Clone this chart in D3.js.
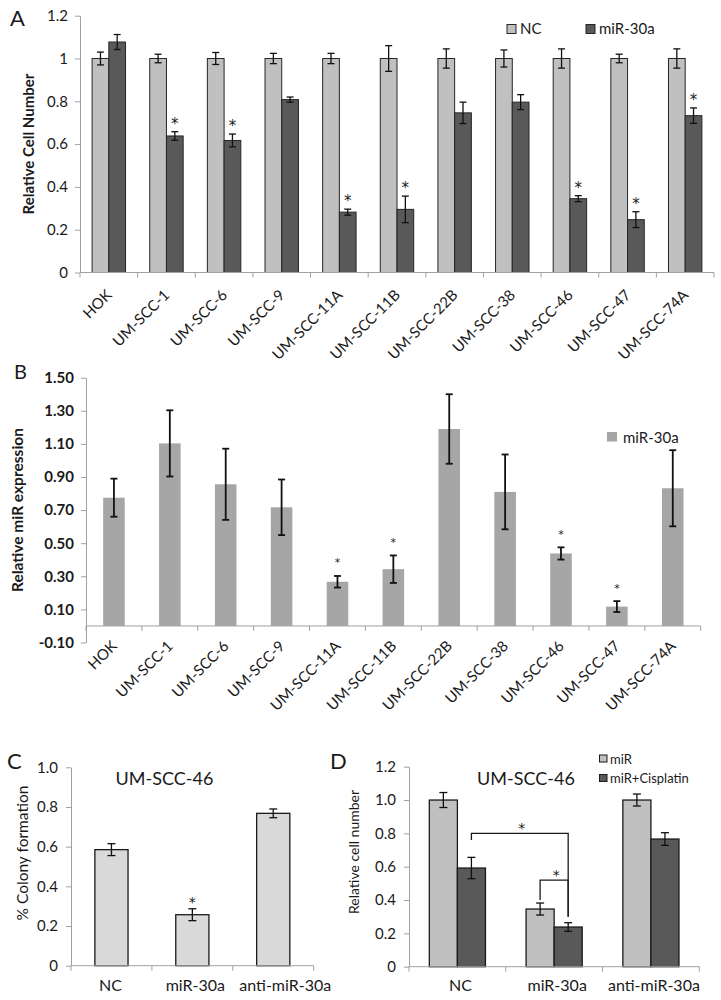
<!DOCTYPE html>
<html><head><meta charset="utf-8">
<script src="https://cdn.jsdelivr.net/npm/d3@7"></script>
<style>
body{margin:0;background:#fff}
svg{display:block}
text{font-family:Lato,"Open Sans",sans-serif;fill:#1a1a1a}
text.star{font-family:"DejaVu Sans",sans-serif;fill:#1a1a1a}
</style>
</head><body>
<svg id="chart" width="721" height="1000"></svg>
<script>
// ---------- DATA ----------
const cellLines = ["HOK","UM-SCC-1","UM-SCC-6","UM-SCC-9","UM-SCC-11A","UM-SCC-11B","UM-SCC-22B","UM-SCC-38","UM-SCC-46","UM-SCC-47","UM-SCC-74A"];

// Panel A
const aSeries = ["NC","miR-30a"];
const aNC      = [1,1,1,1,1,1,1,1,1,1,1];
const aNCErr   = [0.03,0.02,0.028,0.024,0.024,0.06,0.045,0.04,0.045,0.02,0.045];
const aMiR     = [1.077,0.638,0.617,0.808,0.282,0.295,0.746,0.796,0.345,0.247,0.733];
const aMiRErr  = [0.035,0.02,0.03,0.012,0.014,0.062,0.05,0.035,0.014,0.037,0.036];
const aStars   = [false,true,true,false,true,true,false,false,true,true,true];
const aTicks   = [0,0.2,0.4,0.6,0.8,1,1.2];

// Panel B
const bSeries  = "miR-30a";
const bVal     = [0.775,1.103,0.856,0.717,0.267,0.343,1.19,0.81,0.438,0.117,0.832];
const bErr     = [0.115,0.2,0.215,0.168,0.035,0.083,0.21,0.226,0.037,0.033,0.23];
const bStars   = [false,false,false,false,true,true,false,false,true,true,false];
const bTicks   = [-0.1,0.1,0.3,0.5,0.7,0.9,1.1,1.3,1.5];

// Panel C
const cGroups  = ["NC","miR-30a","anti-miR-30a"];
const cVal     = [0.585,0.257,0.768];
const cErr     = [0.03,0.03,0.022];
const cStars   = [false,true,false];
const cTicks   = [0,0.2,0.4,0.6,0.8,1.0];
const cTitle   = "UM-SCC-46";

// Panel D
const dGroups  = ["NC","miR-30a","anti-miR-30a"];
const dSeries  = ["miR","miR+Cisplatin"];
const dMiR     = [1.0,0.346,1.0];
const dMiRErr  = [0.045,0.036,0.036];
const dCis     = [0.592,0.238,0.766];
const dCisErr  = [0.064,0.026,0.038];
const dTicks   = [0,0.2,0.4,0.6,0.8,1.0,1.2];
const dTitle   = "UM-SCC-46";
// brackets: [groupIndex, seriesIndex] endpoints, bracket level, leg end values
const dBrackets = [
  {from:[0,1], to:[1,1], level:0.8,  fromEnd:0.76, toEnd:0.30},
  {from:[1,0], to:[1,1], level:0.52, fromEnd:0.40, toEnd:0.30}
];

// ---------- STYLE ----------
const LIGHT = "#c0c0c0", DARK = "#595959", MIDB = "#a6a6a6", PALE = "#d9d9d9";
const AXIS = "#a0a0a0";
const svg = d3.select("#chart");

function errBar(g, x, y, v, e, cap, sw){
  const gg = g.append("g").attr("stroke","#111").attr("stroke-width",sw||1.3);
  gg.append("line").attr("x1",x).attr("x2",x).attr("y1",y(v-e)).attr("y2",y(v+e));
  gg.append("line").attr("x1",x-cap).attr("x2",x+cap).attr("y1",y(v-e)).attr("y2",y(v-e));
  gg.append("line").attr("x1",x-cap).attr("x2",x+cap).attr("y1",y(v+e)).attr("y2",y(v+e));
}
function yAxis(g, y, ticks, fmt, x0, opts){
  const ax = g.append("g").attr("transform",`translate(${x0},0)`)
    .call(d3.axisLeft(y).tickValues(ticks).tickFormat(fmt).tickSize(5).tickSizeOuter(0).tickPadding(opts.pad||6));
  ax.select(".domain").attr("stroke",AXIS);
  ax.selectAll(".tick line").attr("stroke",AXIS);
  ax.selectAll(".tick text").attr("font-size",opts.fs).attr("font-weight",opts.fw||"normal")
    .attr("fill",opts.color||"#1a1a1a").attr("font-family","Lato, 'Open Sans', sans-serif");
  return ax;
}
function xBaseline(g, x, y0, cats){
  const edges = cats.map(c=>x(c)).concat([x(cats[cats.length-1])+x.step()]);
  g.append("line").attr("x1",edges[0]).attr("x2",edges[edges.length-1])
    .attr("y1",y0).attr("y2",y0).attr("stroke",AXIS);
  g.selectAll(null).data(edges).join("line")
    .attr("x1",d=>d).attr("x2",d=>d).attr("y1",y0).attr("y2",y0+5).attr("stroke",AXIS);
}
function star(g, x, y, fs){
  g.append("text").attr("class","star").attr("x",x).attr("y",y).attr("text-anchor","middle")
    .attr("font-size",fs).text("*");
}

// ================= PANEL A =================
{
  const g = svg.append("g");
  const x = d3.scaleBand().domain(cellLines).range([80,714]).padding(0);
  const y = d3.scaleLinear().domain([0,1.2]).range([272.5,15.7]);
  const bw = x.bandwidth()*0.29;
  const xs = d3.scaleBand().domain(aSeries).range([0,2*bw]);
  const off = (x.bandwidth()-2*bw)/2;
  const series = [{k:"NC",v:aNC,e:aNCErr,c:LIGHT},{k:"miR-30a",v:aMiR,e:aMiRErr,c:DARK}];
  yAxis(g,y,aTicks,d=>String(+d.toFixed(1)),80,{fs:15,pad:7});
  series.forEach(s=>{
    g.selectAll(null).data(cellLines).join("rect")
      .attr("x",d=>x(d)+off+xs(s.k)).attr("width",xs.bandwidth())
      .attr("y",(d,i)=>y(s.v[i])).attr("height",(d,i)=>y(0)-y(s.v[i]))
      .attr("fill",s.c).attr("stroke","#262626").attr("stroke-width",1);
  });
  xBaseline(g,x,y(0),cellLines);
  series.forEach(s=>{
    cellLines.forEach((c,i)=>errBar(g,x(c)+off+xs(s.k)+xs.bandwidth()/2,y,s.v[i],s.e[i],3.5,1.3));
  });
  cellLines.forEach((c,i)=>{
    if(aStars[i]) star(g, x(c)+off+xs("miR-30a")+xs.bandwidth()/2, y(aMiR[i]+aMiRErr[i])-3, 15);
  });
  g.selectAll(null).data(cellLines).join("text")
    .attr("transform",d=>`translate(${x(d)+x.bandwidth()/2+4},296) rotate(-45)`)
    .attr("text-anchor","end").attr("font-size",15).text(d=>d);
  g.append("text").attr("transform","translate(28,144) rotate(-90)").attr("text-anchor","middle")
    .attr("dominant-baseline","central").attr("font-weight","bold").attr("font-size",15).text("Relative Cell Number");
  g.append("text").attr("x",10).attr("y",26).attr("font-size",22).text("A");
  // legend
  const lg = g.append("g");
  [{k:"NC",c:LIGHT,x:507},{k:"miR-30a",c:DARK,x:586}].forEach(l=>{
    lg.append("rect").attr("x",l.x).attr("y",24.5).attr("width",9).attr("height",9).attr("fill",l.c).attr("stroke","#262626");
    lg.append("text").attr("x",l.x+13).attr("y",34).attr("font-size",15).text(l.k);
  });
}

// ================= PANEL B =================
{
  const g = svg.append("g");
  const x = d3.scaleBand().domain(cellLines).range([86,700.7]).padding(0);
  const y = d3.scaleLinear().domain([-0.1,1.5]).range([642.5,377.7]);
  const bw = x.bandwidth()*0.386;
  yAxis(g,y,bTicks,d=>d.toFixed(2),86,{fs:15,fw:"bold",pad:7});
  g.selectAll(null).data(cellLines).join("rect")
    .attr("x",d=>x(d)+(x.bandwidth()-bw)/2).attr("width",bw)
    .attr("y",(d,i)=>y(bVal[i])).attr("height",(d,i)=>y(0)-y(bVal[i])).attr("fill",MIDB);
  xBaseline(g,x,y(0),cellLines);
  cellLines.forEach((c,i)=>{
    errBar(g,x(c)+x.bandwidth()/2,y,bVal[i],bErr[i],3.5,1.8);
    if(bStars[i]) star(g, x(c)+x.bandwidth()/2, y(bVal[i]+bErr[i])-9.5, 11);
  });
  g.selectAll(null).data(cellLines).join("text")
    .attr("transform",d=>`translate(${x(d)+x.bandwidth()/2+4},647) rotate(-45)`)
    .attr("text-anchor","end").attr("font-size",15).text(d=>d);
  g.append("text").attr("transform","translate(17,510) rotate(-90)").attr("text-anchor","middle")
    .attr("dominant-baseline","central").attr("font-weight","bold").attr("font-size",15.5).text("Relative miR expression");
  g.append("text").attr("x",14).attr("y",379).attr("font-size",20).text("B");
  g.append("rect").attr("x",607).attr("y",432).attr("width",10).attr("height",9.5).attr("fill",MIDB);
  g.append("text").attr("x",623).attr("y",442.5).attr("font-size",15).text(bSeries);
}

// ================= PANEL C =================
{
  const g = svg.append("g");
  const x = d3.scaleBand().domain(cGroups).range([71,313.7]).padding(0);
  const y = d3.scaleLinear().domain([0,1]).range([965.7,767.3]);
  const bw = x.bandwidth()*0.41;
  yAxis(g,y,cTicks,d=>d===0?"0":d.toFixed(1),71,{fs:15,pad:8,color:"#333"});
  g.selectAll(null).data(cGroups).join("rect")
    .attr("x",d=>x(d)+(x.bandwidth()-bw)/2).attr("width",bw)
    .attr("y",(d,i)=>y(cVal[i])).attr("height",(d,i)=>y(0)-y(cVal[i]))
    .attr("fill",PALE).attr("stroke","#1a1a1a").attr("stroke-width",1.3);
  xBaseline(g,x,y(0),cGroups);
  cGroups.forEach((c,i)=>{
    errBar(g,x(c)+x.bandwidth()/2,y,cVal[i],cErr[i],4,1.3);
    if(cStars[i]) star(g, x(c)+x.bandwidth()/2, y(cVal[i]+cErr[i])-1.5, 14);
  });
  const dx = [-1,3,12];
  g.selectAll(null).data(cGroups).join("text")
    .attr("x",(d,i)=>x(d)+x.bandwidth()/2+dx[i]).attr("y",991).attr("text-anchor","middle")
    .attr("font-size",16).attr("fill","#222").text(d=>d);
  g.append("text").attr("x",164.5).attr("y",785).attr("text-anchor","middle").attr("font-size",18).attr("fill","#222").text(cTitle);
  g.append("text").attr("transform","translate(22,853) rotate(-90)").attr("text-anchor","middle")
    .attr("dominant-baseline","central").attr("font-size",15.5).attr("fill","#222").text("% Colony formation");
  g.append("text").attr("x",7).attr("y",769).attr("font-size",22).text("C");
}

// ================= PANEL D =================
{
  const g = svg.append("g");
  const x = d3.scaleBand().domain(dGroups).range([409,699.3]).padding(0);
  const y = d3.scaleLinear().domain([0,1.2]).range([966.7,766.7]);
  const bw = x.bandwidth()*0.29;
  const xs = d3.scaleBand().domain(dSeries).range([0,2*bw]);
  const off = (x.bandwidth()-2*bw)/2;
  const cx = (gi,si)=>x(dGroups[gi])+off+xs(dSeries[si])+xs.bandwidth()/2;
  const series = [{k:"miR",v:dMiR,e:dMiRErr,c:LIGHT},{k:"miR+Cisplatin",v:dCis,e:dCisErr,c:DARK}];
  yAxis(g,y,dTicks,d=>d===0?"0":d.toFixed(1),409,{fs:15,pad:8,color:"#333"});
  series.forEach(s=>{
    g.selectAll(null).data(dGroups).join("rect")
      .attr("x",d=>x(d)+off+xs(s.k)).attr("width",xs.bandwidth())
      .attr("y",(d,i)=>y(s.v[i])).attr("height",(d,i)=>y(0)-y(s.v[i]))
      .attr("fill",s.c).attr("stroke","#1a1a1a").attr("stroke-width",1.3);
  });
  xBaseline(g,x,y(0),dGroups);
  series.forEach((s,si)=>dGroups.forEach((c,i)=>errBar(g,cx(i,si),y,s.v[i],s.e[i],4,1.3)));
  dBrackets.forEach(b=>{
    const x1 = cx(b.from[0],b.from[1]), x2 = cx(b.to[0],b.to[1]);
    g.append("path").attr("fill","none").attr("stroke","#1a1a1a").attr("stroke-width",1.3)
      .attr("d",`M${x1},${y(b.fromEnd)}V${y(b.level)}H${x2}V${y(b.toEnd)}`);
    star(g, (x1+x2)/2+2, y(b.level)-0.5, 14);
  });
  g.selectAll(null).data(dGroups).join("text")
    .attr("x",d=>x(d)+x.bandwidth()/2+3).attr("y",991).attr("text-anchor","middle")
    .attr("font-size",16).attr("fill","#222").text(d=>d);
  g.append("text").attr("x",526).attr("y",785).attr("text-anchor","middle").attr("font-size",18).attr("fill","#222").text(dTitle);
  g.append("text").attr("transform","translate(353,852) rotate(-90)").attr("text-anchor","middle")
    .attr("dominant-baseline","central").attr("font-size",14).attr("fill","#222").text("Relative cell number");
  g.append("text").attr("x",330).attr("y",769).attr("font-size",22).text("D");
  series.forEach((s,i)=>{
    g.append("rect").attr("x",599.5).attr("y",755+i*19.5).attr("width",7.5).attr("height",7).attr("fill",s.c).attr("stroke","#1a1a1a");
    g.append("text").attr("x",610).attr("y",763.5+i*19.5).attr("font-size",13).attr("fill","#222").text(s.k);
  });
}
</script>
</body></html>
